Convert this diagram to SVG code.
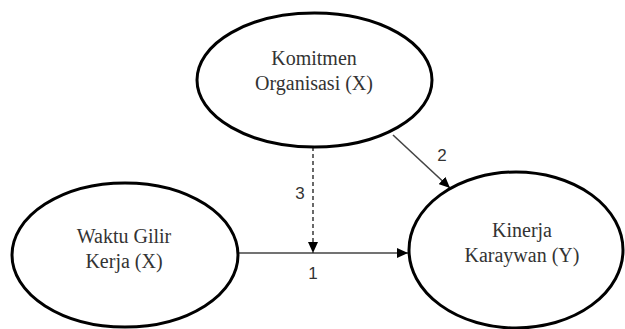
<svg xmlns="http://www.w3.org/2000/svg" width="625" height="329" viewBox="0 0 625 329">
<style>
.node ellipse{fill:#fff;stroke:#000;stroke-width:3}
.lbl{font-family:"Liberation Serif","Times New Roman",serif;font-size:20px;fill:#333;text-anchor:middle}
.num{font-family:"Liberation Sans",Arial,sans-serif;font-size:17px;fill:#333;text-anchor:middle}
.edge{stroke:#444;stroke-width:1.6;fill:none}
</style>
<defs>
<marker id="ah" markerUnits="userSpaceOnUse" markerWidth="12" markerHeight="10" refX="11" refY="5" orient="auto">
<path d="M0,0 L11,5 L0,10 Z" fill="#000"/>
</marker>
</defs>
<rect width="625" height="329" fill="#fff"/>
<g id="connectors">
<line class="edge" x1="238" y1="253" x2="408" y2="253" marker-end="url(#ah)"/>
<line class="edge" x1="313" y1="147" x2="313" y2="253" stroke-dasharray="4,3" marker-end="url(#ah)"/>
<line class="edge" x1="393" y1="135" x2="450" y2="188" marker-end="url(#ah)"/>
<text class="num" x="300" y="199">3</text>
<text class="num" x="313" y="279">1</text>
<text class="num" x="442" y="161">2</text>
</g>
<g id="komitmen" class="node">
<ellipse cx="314.5" cy="80" rx="117.5" ry="67"/>
<text class="lbl" x="314" y="65">Komitmen</text>
<text class="lbl" x="314" y="90">Organisasi (X)</text>
</g>
<g id="waktu" class="node">
<ellipse cx="125" cy="255" rx="113" ry="72"/>
<text class="lbl" x="124" y="243">Waktu Gilir</text>
<text class="lbl" x="124" y="268">Kerja (X)</text>
</g>
<g id="kinerja" class="node">
<ellipse cx="516" cy="250" rx="107" ry="78"/>
<text class="lbl" x="522" y="237">Kinerja</text>
<text class="lbl" x="522" y="262">Karaywan (Y)</text>
</g>
</svg>
